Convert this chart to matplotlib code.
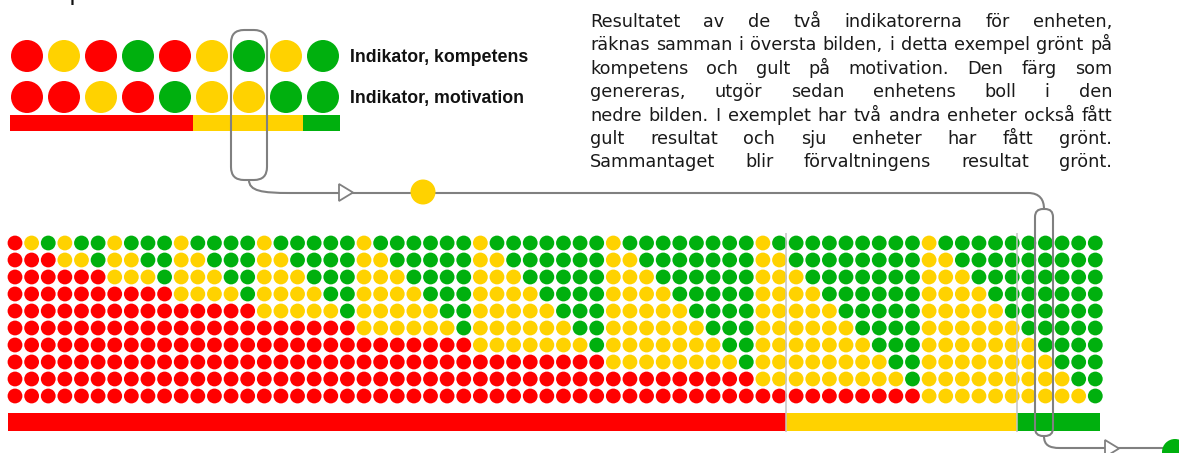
import matplotlib
matplotlib.use("Agg")
import matplotlib.pyplot as plt
from matplotlib.patches import FancyBboxPatch, Polygon, Circle, PathPatch
from matplotlib.path import Path

RED = "#ff0000"
YEL = "#ffd200"
GRN = "#00b00e"
GREY = "#808080"
COLS = {"r": RED, "y": YEL, "g": GRN}

# upper example: 9 units, two indicators each
kompetens = ["r", "y", "r", "g", "r", "y", "g", "y", "g"]
motivation = ["r", "r", "y", "r", "g", "y", "y", "g", "g"]
top_result = [5, 3, 1]          # red, yellow, green
top_labels = ["Indikator, kompetens", "Indikator, motivation"]

# lower picture: 66 units, 10 balls each (red bottom, yellow, green top)
col_red = [10,
           9, 9,
           8, 8, 8,
           7, 7, 7, 7,
           6, 6, 6, 6, 6,
           5, 5, 5, 5, 5, 5,
           4, 4, 4, 4, 4, 4, 4,
           3, 3, 3, 3, 3, 3, 3, 3,
           2, 2, 2, 2, 2, 2, 2, 2, 2,
           1, 1, 1, 1, 1, 1, 1, 1, 1, 1,
           0, 0, 0, 0, 0, 0, 0, 0, 0, 0, 0]
col_green = [0,
             0, 1,
             0, 1, 2,
             0, 1, 2, 3,
             0, 1, 2, 3, 4,
             0, 1, 2, 3, 4, 5,
             0, 1, 2, 3, 4, 5, 6,
             0, 1, 2, 3, 4, 5, 6, 7,
             0, 1, 2, 3, 4, 5, 6, 7, 8,
             0, 1, 2, 3, 4, 5, 6, 7, 8, 9,
             0, 1, 2, 3, 4, 5, 6, 7, 8, 9, 10]
bottom_result = [47, 14, 5]     # red, yellow, green

text_lines = [
    "Resultatet av de två indikatorerna för enheten,",
    "räknas samman i översta bilden, i detta exempel grönt på",
    "kompetens och gult på motivation. Den färg som",
    "genereras, utgör sedan enhetens boll i den",
    "nedre bilden. I exemplet har två andra enheter också fått",
    "gult resultat och sju enheter har fått grönt.",
    "Sammantaget blir förvaltningens resultat grönt.",
]

W, H = 1179, 453
fig = plt.figure(figsize=(W / 100, H / 100), dpi=100)
ax = fig.add_axes([0, 0, 1, 1])
ax.set_xlim(0, W)
ax.set_ylim(H, 0)
ax.axis("off")


def s_px(d):
    return (d * 72 / 100) ** 2


# ---- upper example
tx0, tdx, td = 27, 37, 32
for row, (vals, yy) in enumerate(zip([kompetens, motivation], [56, 97])):
    xs = [tx0 + j * tdx for j in range(len(vals))]
    ax.scatter(xs, [yy] * len(vals), s=s_px(td), c=[COLS[v] for v in vals],
               linewidths=0, zorder=3)
    ax.text(350, yy + 1, top_labels[row], fontsize=12.8, fontweight="bold",
            family="Liberation Sans", va="center", ha="left", color="#111111")

unit_top = 330 / len(kompetens)
left = 10
for n, c in zip(top_result, [RED, YEL, GRN]):
    ax.barh(123, n * unit_top, left=left, height=16, color=c, linewidth=0)
    left += n * unit_top

# ---- lower grid
gx0, gdx, gy0, gdy, gd = 15, 16.62, 243, 17.0, 14.8
xs, ys, cs = [], [], []
for i, (r, g) in enumerate(zip(col_red, col_green)):
    for row in range(10):
        if row < g:
            c = GRN
        elif row < 10 - r:
            c = YEL
        else:
            c = RED
        xs.append(gx0 + i * gdx)
        ys.append(gy0 + row * gdy)
        cs.append(c)
ax.scatter(xs, ys, s=s_px(gd), c=cs, linewidths=0, zorder=3)

unit_bot = 1092 / len(col_red)
left = 8
bounds = []
for n, c in zip(bottom_result, [RED, YEL, GRN]):
    ax.barh(422, n * unit_bot, left=left, height=18, color=c, linewidth=0)
    left += n * unit_bot
    bounds.append(left)
ax.vlines(bounds[:2], 233, 432, color="#c4c4c4", lw=1.1, zorder=4)

# ---- connectors
ax.add_patch(FancyBboxPatch((231, 30), 36, 150,
                            boxstyle="round,pad=0,rounding_size=13",
                            fc="none", ec=GREY, lw=1.5, zorder=5))
ax.add_patch(FancyBboxPatch((1035, 209), 18, 227,
                            boxstyle="round,pad=0,rounding_size=8",
                            fc="none", ec=GREY, lw=1.5, zorder=5))

top_path = Path([(249, 180), (249, 191), (262, 193), (290, 193),
                 (1028, 193), (1040, 193), (1044, 200), (1044, 209)],
                [Path.MOVETO, Path.CURVE4, Path.CURVE4, Path.CURVE4,
                 Path.LINETO, Path.CURVE4, Path.CURVE4, Path.CURVE4])
ax.add_patch(PathPatch(top_path, fc="none", ec=GREY, lw=1.5, zorder=2))
bot_path = Path([(1044, 436), (1044, 445), (1049, 448), (1060, 448),
                 (1170, 448)],
                [Path.MOVETO, Path.CURVE4, Path.CURVE4, Path.CURVE4,
                 Path.LINETO])
ax.add_patch(PathPatch(bot_path, fc="none", ec=GREY, lw=1.5, zorder=2))

ax.add_patch(Polygon([(339, 184), (339, 201), (353, 192.5)], closed=True,
                     fc="white", ec=GREY, lw=1.3, zorder=6))
ax.add_patch(Polygon([(1105, 440), (1105, 457), (1119, 448.5)], closed=True,
                     fc="white", ec=GREY, lw=1.3, zorder=6))
ax.add_patch(Circle((423, 192), 12.5, fc=YEL, ec="none", zorder=6))
ax.add_patch(Circle((1175, 452), 13, fc=GRN, ec="none", zorder=6))

# heading above the picture, only its lowest part is inside the frame
ax.text(6, 0.3, "Exempel", fontsize=18, family="Liberation Sans",
        va="baseline", ha="left", color="#111111")

# ---- justified paragraph
renderer = fig.canvas.get_renderer()
x0, x1 = 590, 1112
probe = ax.text(0, 0, text_lines[1], fontsize=12, family="DejaVu Sans")
nat = probe.get_window_extent(renderer).width
probe.remove()
fs = 12 * 512 / nat
for k, line in enumerate(text_lines):
    yb = 27 + k * 23.4
    words = line.split()
    ts = [ax.text(0, yb, w, fontsize=fs, family="DejaVu Sans",
                  va="baseline", ha="left", color="#1a1a1a") for w in words]
    widths = [t.get_window_extent(renderer).width for t in ts]
    gap = (x1 - x0 - sum(widths)) / (len(words) - 1)
    x = x0
    for t, w in zip(ts, widths):
        t.set_x(x)
        x += w + gap

fig.savefig("out.png", dpi=100)
